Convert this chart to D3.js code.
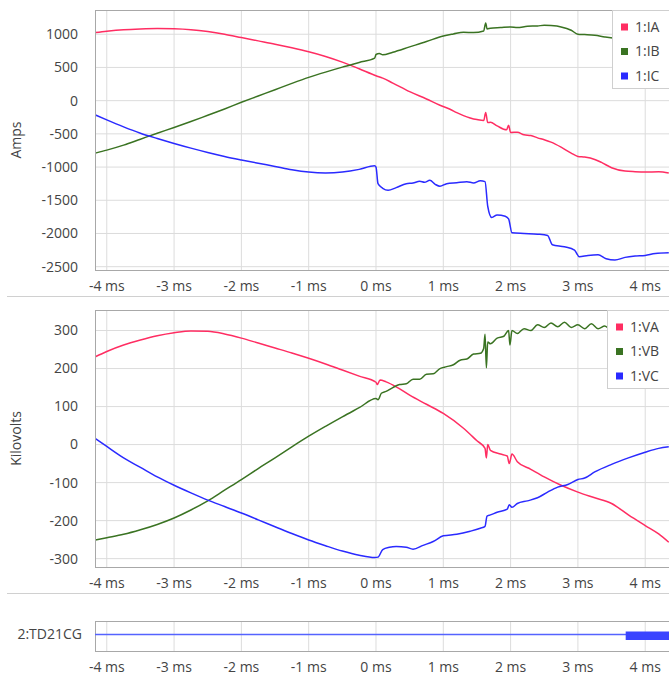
<!DOCTYPE html>
<html><head><meta charset="utf-8">
<script src="https://cdn.jsdelivr.net/npm/d3@7"></script>
<style>
html,body{margin:0;padding:0;background:#fff;}
svg{display:block;font-family:"Open Sans","Noto Sans",sans-serif;}
</style></head>
<body><svg id="c" width="669" height="677"></svg>
<script>
// ---------- DATA ----------
const xTicks = [-4,-3,-2,-1,0,1,2,3,4];
const ampTicks = [1000,500,0,-500,-1000,-1500,-2000,-2500];
const kvTicks = [300,200,100,0,-100,-200,-300];

const IA = [[-4.17,1025],[-4.0,1045],[-3.75,1068],[-3.5,1080],[-3.25,1086],[-3.0,1082],[-2.75,1068],[-2.5,1040],[-2.25,1000],[-2.0,950],[-1.75,900],[-1.5,850],[-1.25,795],[-1.0,735],[-0.75,665],[-0.5,580],[-0.25,480],[0,375],[0.1,340],[0.25,265],[0.5,135],[0.75,25],[0.95,-70],[1.1,-130],[1.2,-180],[1.3,-225],[1.4,-260],[1.5,-285],[1.6,-300],[1.63,-180],[1.66,-330],[1.7,-325],[1.8,-380],[1.94,-440],[1.97,-370],[2.0,-480],[2.1,-475],[2.2,-515],[2.3,-525],[2.4,-560],[2.5,-590],[2.6,-625],[2.75,-700],[2.9,-790],[3.0,-840],[3.1,-850],[3.25,-885],[3.35,-930],[3.5,-1010],[3.7,-1060],[3.85,-1070],[4.0,-1075],[4.2,-1070],[4.35,-1090]];
const IB = [[-4.17,-790],[-4.0,-745],[-3.75,-670],[-3.5,-580],[-3.25,-490],[-3.0,-405],[-2.75,-315],[-2.5,-220],[-2.25,-125],[-2.0,-25],[-1.75,70],[-1.5,165],[-1.25,260],[-1.0,350],[-0.75,430],[-0.5,505],[-0.25,575],[-0.02,640],[0.0,695],[0.05,710],[0.1,690],[0.25,730],[0.5,810],[0.75,890],[1.0,975],[1.15,1005],[1.3,1030],[1.45,1025],[1.6,1050],[1.63,1170],[1.65,1080],[1.7,1090],[1.85,1100],[2.0,1110],[2.1,1100],[2.25,1120],[2.4,1125],[2.5,1135],[2.6,1130],[2.75,1110],[2.9,1060],[3.0,1000],[3.1,995],[3.25,985],[3.4,960],[3.55,940],[3.75,930],[4.0,920],[4.35,900]];
const IC = [[-4.17,-215],[-4.0,-290],[-3.75,-395],[-3.5,-490],[-3.25,-570],[-3.0,-645],[-2.75,-715],[-2.5,-780],[-2.25,-840],[-2.0,-893],[-1.75,-943],[-1.5,-990],[-1.25,-1040],[-1.0,-1075],[-0.75,-1088],[-0.5,-1075],[-0.25,-1035],[-0.02,-980],[0.0,-1000],[0.03,-1250],[0.1,-1320],[0.18,-1350],[0.3,-1310],[0.45,-1250],[0.55,-1240],[0.65,-1215],[0.72,-1230],[0.8,-1200],[0.88,-1260],[0.95,-1290],[1.05,-1250],[1.2,-1235],[1.35,-1220],[1.45,-1240],[1.55,-1205],[1.62,-1220],[1.66,-1590],[1.72,-1760],[1.8,-1720],[1.92,-1740],[1.97,-1780],[2.02,-1990],[2.2,-2000],[2.4,-2010],[2.55,-2030],[2.62,-2170],[2.8,-2200],[2.95,-2250],[3.02,-2350],[3.15,-2330],[3.3,-2320],[3.42,-2380],[3.55,-2400],[3.7,-2360],[3.85,-2340],[4.0,-2330],[4.15,-2300],[4.35,-2290]];

const VA = [[-4.17,231],[-4.0,245],[-3.75,262],[-3.5,275],[-3.25,286],[-3.0,294],[-2.75,299],[-2.5,298],[-2.25,291],[-2.0,280],[-1.75,267],[-1.5,254],[-1.25,241],[-1.0,227],[-0.75,212],[-0.5,196],[-0.25,180],[0.0,164],[0.02,158],[0.06,170],[0.15,165],[0.3,152],[0.5,130],[0.75,106],[1.0,82],[1.3,43],[1.5,10],[1.62,-10],[1.64,-35],[1.66,0],[1.7,-15],[1.85,-25],[1.95,-30],[1.98,-50],[2.02,-25],[2.1,-45],[2.3,-65],[2.5,-85],[2.75,-107],[3.0,-125],[3.25,-140],[3.5,-155],[3.75,-185],[4.0,-213],[4.2,-235],[4.35,-257]];
const VB = [[-4.17,-251],[-4.0,-245],[-3.75,-236],[-3.5,-224],[-3.25,-210],[-3.0,-193],[-2.75,-172],[-2.5,-148],[-2.25,-120],[-2.0,-92],[-1.75,-63],[-1.5,-35],[-1.25,-6],[-1.0,22],[-0.75,48],[-0.5,73],[-0.25,97],[0.0,121],[0.03,118],[0.08,135],[0.15,140],[0.25,150],[0.35,158],[0.45,160],[0.55,172],[0.65,172],[0.75,185],[0.85,186],[0.95,200],[1.05,205],[1.15,210],[1.25,222],[1.35,225],[1.45,238],[1.55,240],[1.6,253],[1.62,290],[1.64,202],[1.66,270],[1.7,265],[1.8,280],[1.9,285],[1.97,300],[1.99,262],[2.02,300],[2.1,292],[2.2,305],[2.3,300],[2.4,315],[2.5,308],[2.6,320],[2.7,310],[2.8,322],[2.9,308],[3.0,315],[3.1,305],[3.2,318],[3.3,305],[3.4,312],[3.5,300],[3.6,300],[3.8,295],[4.0,290],[4.35,285]];
const VC = [[-4.17,16],[-4.0,-5],[-3.75,-35],[-3.5,-60],[-3.25,-85],[-3.0,-107],[-2.75,-127],[-2.5,-146],[-2.25,-163],[-2.0,-180],[-1.75,-198],[-1.5,-216],[-1.25,-234],[-1.0,-251],[-0.75,-266],[-0.5,-280],[-0.25,-291],[-0.02,-297],[0.03,-296],[0.1,-276],[0.2,-270],[0.3,-268],[0.45,-270],[0.55,-275],[0.7,-265],[0.85,-255],[1.0,-240],[1.2,-236],[1.4,-228],[1.55,-220],[1.62,-215],[1.65,-188],[1.7,-185],[1.8,-178],[1.95,-170],[1.98,-158],[2.02,-165],[2.1,-155],[2.25,-148],[2.4,-140],[2.55,-125],[2.7,-112],[2.85,-105],[3.0,-92],[3.1,-88],[3.25,-72],[3.5,-52],[3.75,-35],[4.0,-20],[4.2,-10],[4.35,-6]];

const TD21CG = [[-4.2,0.1],[4.4,0.1]];
const TD21CGBurst = [[3.71,0.3,-0.27],[4.4,0.3,-0.27]];

const currentNames = ["1:IA","1:IB","1:IC"];
const voltageNames = ["1:VA","1:VB","1:VC"];
const colors = ["#ff2d62","#3a7322","#2a2aff"];

// ---------- DRAW ----------
const svg = d3.select("#c");
const X0 = 95, X1 = 672;
const FS = 14;
const x = d3.scaleLinear().domain([-4.175, 4.398]).range([X0, X1]);

function panel(top, bottom, yDomain, yTicks, series, names, yLabel, legendX) {
  const y = d3.scaleLinear().domain(yDomain).range([bottom, top]);
  const g = svg.append("g");
  g.append("rect").attr("x",X0).attr("y",top).attr("width",X1-X0).attr("height",bottom-top)
    .attr("fill","#fff");
  g.selectAll(".vg").data(xTicks).join("line")
    .attr("x1",d=>x(d)).attr("x2",d=>x(d)).attr("y1",top).attr("y2",bottom)
    .attr("stroke","#dcdcdc").attr("stroke-width",1);
  if (yTicks) {
    g.selectAll(".hg").data(yTicks).join("line")
      .attr("x1",X0).attr("x2",X1).attr("y1",d=>y(d)).attr("y2",d=>y(d))
      .attr("stroke","#dcdcdc").attr("stroke-width",1);
    g.selectAll(".yt").data(yTicks).join("text")
      .attr("x",78).attr("y",d=>y(d)).attr("dy","0.35em").attr("text-anchor","end")
      .attr("font-size",FS).attr("fill","#444").text(d=>d);
  }
  const clipId = "clip"+top;
  svg.append("clipPath").attr("id",clipId).append("rect")
    .attr("x",X0).attr("y",top).attr("width",X1-X0).attr("height",bottom-top);
  const line = d3.line().curve(d3.curveMonotoneX).x(d=>x(d[0])).y(d=>y(d[1]));
  series.forEach((s,i)=>{
    g.append("path").attr("d",line(s)).attr("fill","none")
      .attr("stroke",colors[i]).attr("stroke-width",1.5)
      .attr("stroke-linejoin","round").attr("clip-path",`url(#${clipId})`);
  });
  g.append("rect").attr("x",X0+0.5).attr("y",top+0.5).attr("width",X1-X0).attr("height",bottom-top)
    .attr("fill","none").attr("stroke","#a8a8a8").attr("stroke-width",1);
  g.selectAll(".xt").data(xTicks).join("text")
    .attr("x",d=>x(d)).attr("y",bottom+21).attr("text-anchor","middle")
    .attr("font-size",FS).attr("fill","#444").text(d=>d+" ms");
  if (yLabel) {
    g.append("text").attr("transform",`translate(21,${(top+bottom)/2}) rotate(-90)`)
      .attr("text-anchor","middle").attr("font-size",FS).attr("fill","#444").text(yLabel);
  }
  if (names) {
    const lg = g.append("g");
    lg.append("rect").attr("x",legendX+0.5).attr("y",top+0.5).attr("width",80).attr("height",78)
      .attr("fill","#fff").attr("stroke","#cfcfcf");
    names.forEach((n,i)=>{
      const cy = top + 17 + i*24.5;
      lg.append("rect").attr("x",legendX+9).attr("y",cy-3.5).attr("width",7).attr("height",7).attr("fill",colors[i]);
      lg.append("text").attr("x",legendX+23).attr("y",cy).attr("dy","0.35em")
        .attr("font-size",FS).attr("fill","#444").text(n);
    });
  }
  return {g,y};
}

panel(10, 270, [-2550, 1365], ampTicks, [IA,IB,IC], currentNames, "Amps", 612);
panel(310, 567, [-322, 354], kvTicks, [VA,VB,VC], voltageNames, "Kilovolts", 607);

svg.append("line").attr("x1",7).attr("x2",669).attr("y1",296.5).attr("y2",296.5).attr("stroke","#d0d0d0");
svg.append("line").attr("x1",7).attr("x2",669).attr("y1",593.5).attr("y2",593.5).attr("stroke","#d0d0d0");

const b = panel(621, 651, [-1, 1], null, [], null, null, 0);
const lineB = d3.line().x(d=>x(d[0])).y(d=>b.y(d[1]));
svg.append("path").attr("d",lineB(TD21CG)).attr("fill","none").attr("stroke","#5563ff").attr("stroke-width",1.6)
  .attr("clip-path","url(#clip621)");
svg.append("path").attr("d",d3.area().x(d=>x(d[0])).y0(d=>b.y(d[2])).y1(d=>b.y(d[1]))(TD21CGBurst))
  .attr("fill","#3a44ff").attr("clip-path","url(#clip621)");
svg.append("text").attr("x",82).attr("y",b.y(0.1)).attr("dy","0.35em").attr("text-anchor","end")
  .attr("font-size",FS).attr("fill","#444").text("2:TD21CG");
</script></body></html>
